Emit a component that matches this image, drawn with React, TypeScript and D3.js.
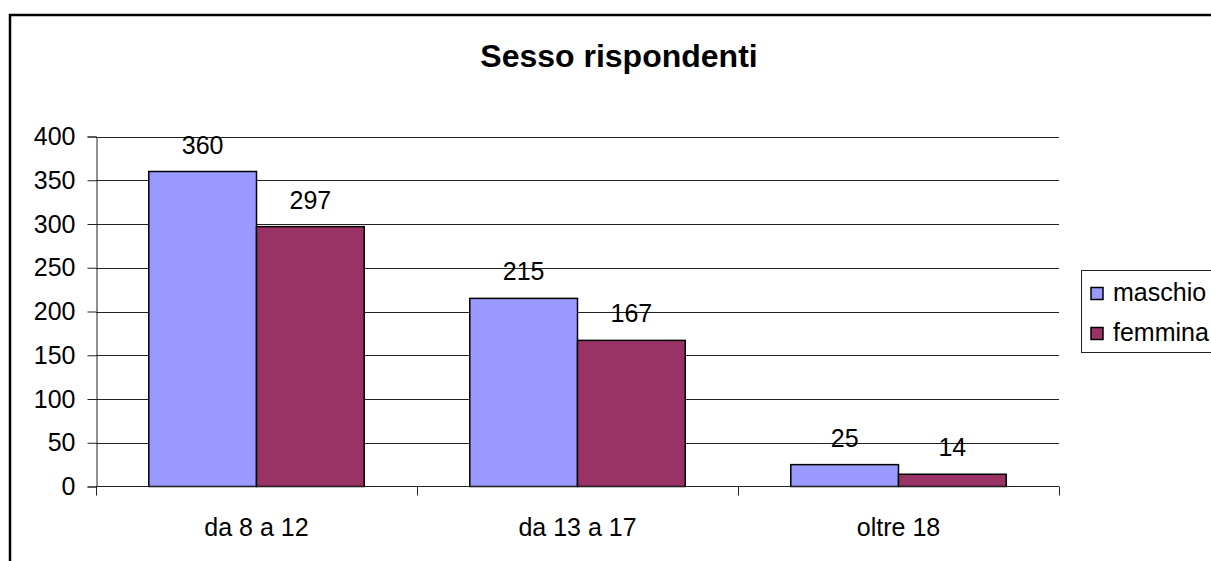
import { useRef, useEffect } from 'react';
import { select, scaleBand, scaleLinear, axisLeft } from 'd3';

const categories = ['da 8 a 12', 'da 13 a 17', 'oltre 18'];
const seriesNames = ['maschio', 'femmina'];
const maschio = [360, 215, 25];
const femmina = [297, 167, 14];
const yTicks = [0, 50, 100, 150, 200, 250, 300, 350, 400];
const colors = ['#9999FF', '#993366'];

const W = 1211;
const H = 561;
const PLOT = { left: 96, right: 1059, top: 136.5, bottom: 486.5 };
const FONT = '"Liberation Sans", Arial, sans-serif';
const FS = 25;

export default function App() {
  const svgRef = useRef<SVGSVGElement>(null);

  useEffect(() => {
    const svg = select(svgRef.current!);
    svg.selectAll('*').remove();

    const x = scaleBand<string>().domain(categories).range([PLOT.left, PLOT.right]);
    const inner = scaleBand<string>()
      .domain(seriesNames)
      .range([0, x.bandwidth()])
      .paddingOuter(0.49)
      .paddingInner(0);
    const y = scaleLinear().domain([0, 400]).range([PLOT.bottom, PLOT.top]);

    // outer frame
    svg
      .append('rect')
      .attr('x', 10)
      .attr('y', 15)
      .attr('width', W + 20)
      .attr('height', H + 20)
      .attr('fill', 'white')
      .attr('stroke', '#000')
      .attr('stroke-width', 2.5);

    svg
      .append('text')
      .attr('x', 619)
      .attr('y', 67)
      .attr('text-anchor', 'middle')
      .attr('font-family', FONT)
      .attr('font-weight', 'bold')
      .attr('font-size', 32)
      .text('Sesso rispondenti');

    // grid
    svg
      .append('g')
      .selectAll('line')
      .data(yTicks.filter((t) => t > 0))
      .join('line')
      .attr('x1', PLOT.left)
      .attr('x2', PLOT.right)
      .attr('y1', (d) => Math.round(y(d)) + 0.5)
      .attr('y2', (d) => Math.round(y(d)) + 0.5)
      .attr('stroke', '#222')
      .attr('stroke-width', 1);

    const yAxis = svg
      .append('g')
      .attr('transform', `translate(${PLOT.left + 0.5},0)`)
      .call(axisLeft(y).tickValues(yTicks).tickSize(9).tickPadding(12));
    yAxis.select('.domain').attr('stroke', '#222');
    yAxis.selectAll('.tick line').attr('stroke', '#222');
    yAxis
      .selectAll('.tick text')
      .attr('font-family', FONT)
      .attr('font-size', FS)
      .attr('fill', '#000');

    const data = categories.map((c, i) => ({ c, vals: [maschio[i], femmina[i]] }));
    const groups = svg
      .append('g')
      .selectAll('g')
      .data(data)
      .join('g')
      .attr('transform', (d) => `translate(${x(d.c)},0)`);

    groups
      .selectAll('rect')
      .data((d) => d.vals.map((v, k) => ({ v, k })))
      .join('rect')
      .attr('x', (d) => inner(seriesNames[d.k])!)
      .attr('y', (d) => y(d.v))
      .attr('width', inner.bandwidth())
      .attr('height', (d) => y(0) - y(d.v))
      .attr('fill', (d) => colors[d.k])
      .attr('stroke', '#000')
      .attr('stroke-width', 1.5);

    groups
      .selectAll('text')
      .data((d) => d.vals.map((v, k) => ({ v, k })))
      .join('text')
      .attr('x', (d) => inner(seriesNames[d.k])! + inner.bandwidth() / 2)
      .attr('y', (d) => y(d.v) - 18)
      .attr('text-anchor', 'middle')
      .attr('font-family', FONT)
      .attr('font-size', FS)
      .text((d) => d.v);

    // x axis
    const xAxis = svg.append('g').attr('transform', `translate(0,${PLOT.bottom})`);
    xAxis
      .append('line')
      .attr('x1', PLOT.left)
      .attr('x2', PLOT.right)
      .attr('y1', 0)
      .attr('y2', 0)
      .attr('stroke', '#222');
    xAxis
      .selectAll('line.tk')
      .data([...categories.map((c) => x(c)!), PLOT.right])
      .join('line')
      .attr('class', 'tk')
      .attr('x1', (d) => Math.round(d) + 0.5)
      .attr('x2', (d) => Math.round(d) + 0.5)
      .attr('y1', 0)
      .attr('y2', 9)
      .attr('stroke', '#222');
    xAxis
      .selectAll('text')
      .data(categories)
      .join('text')
      .attr('x', (d) => x(d)! + x.bandwidth() / 2)
      .attr('y', 49)
      .attr('text-anchor', 'middle')
      .attr('font-family', FONT)
      .attr('font-size', FS)
      .text((d) => d);

    // legend
    const legend = svg.append('g');
    legend
      .append('rect')
      .attr('x', 1081.5)
      .attr('y', 270.5)
      .attr('width', 200)
      .attr('height', 82)
      .attr('fill', 'white')
      .attr('stroke', '#222');
    seriesNames.forEach((s, i) => {
      legend
        .append('rect')
        .attr('x', 1091)
        .attr('y', 287.5 + i * 40)
        .attr('width', 12)
        .attr('height', 12)
        .attr('fill', colors[i])
        .attr('stroke', '#000')
        .attr('stroke-width', 1.5);
      legend
        .append('text')
        .attr('x', 1113)
        .attr('y', 301 + i * 40)
        .attr('font-family', FONT)
        .attr('font-size', FS)
        .text(s);
    });
  }, []);

  return (
    <svg
      ref={svgRef}
      width={W}
      height={H}
      style={{ position: 'absolute', left: 0, top: 0, background: 'white' }}
    />
  );
}
